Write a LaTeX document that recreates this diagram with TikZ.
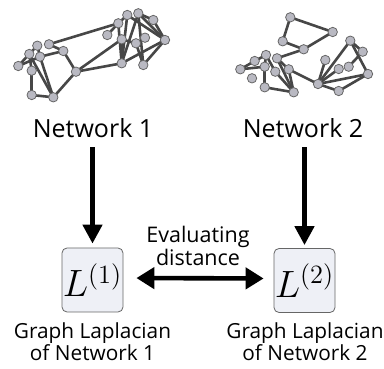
\documentclass[tikz,border=0pt]{standalone}
\usepackage{fontspec}
\setmainfont{Open Sans}
\usetikzlibrary{arrows.meta}
\definecolor{edgec}{HTML}{474747}
\definecolor{nodefill}{HTML}{B9B9C2}
\definecolor{nodedraw}{HTML}{666666}
\definecolor{boxfill}{HTML}{EEF0F6}
\definecolor{boxdraw}{HTML}{666666}
\newcommand{\lapsym}[1]{\scalebox{2.2}{\LARGE$L^{(#1)}$}}
\tikzset{
  vtx/.style={circle,fill=nodefill,draw=nodedraw,line width=0.8pt,minimum size=9.4pt,inner sep=0pt},
  lnk/.style={draw=edgec,line width=2.6pt},
  netlab/.style={font=\fontsize{25}{28}\selectfont,inner sep=0pt,anchor=base},
  lapbox/.style={draw=boxdraw,fill=boxfill,line width=0.8pt,rounded corners=5pt,minimum width=61pt,minimum height=64pt,inner sep=0pt},
  caption/.style={font=\fontsize{20.8}{20}\selectfont,align=center,inner sep=0pt},
  bigarrow/.style={line width=4.6pt,-{Triangle[length=19pt,width=19pt]}},
  dblarrow/.style={line width=4.6pt,{Triangle[length=18pt,width=21pt]}-{Triangle[length=18pt,width=21pt]}}
}
\begin{document}
\begin{tikzpicture}[x=1pt,y=-1pt]
\useasboundingbox (0,0) rectangle (384,369);
% ---------- Network 1 ----------
\foreach \n/\x/\y in {a1/18.3/66,a2/29.3/54,a3/37.3/45.7,a4/40/56.7,a5/31.7/70.7,a6/31.7/95,a7/53.3/97.3,a8/49/44.3,a9/63.3/51,a10/76/71.7,a11/107.3/35,a12/118.3/23.3,a13/127.3/15,a14/138.3/13.3,a15/153.3/20,a16/121.7/39.3,a17/136/43.3,a18/145/37.7,a19/165/40,a20/121.7/63.3,a21/143.3/65}
  \coordinate (\n) at (\x,\y);
\foreach \u/\v in {a1/a2,a1/a4,a2/a3,a2/a5,a2/a7,a3/a4,a4/a7,a4/a9,a5/a6,a6/a7,a7/a10,a10/a9,a9/a8,a8/a12,a10/a20,a10/a16,a11/a12,a12/a13,a12/a20,a13/a19,a14/a19,a14/a15,a15/a19,a16/a20,a13/a20,a14/a21,a17/a21,a19/a21,a19/a20,a16/a17,a14/a20}
  \draw[lnk] (\u) -- (\v);
\foreach \n in {a1,a2,a3,a4,a5,a6,a7,a8,a9,a10,a11,a12,a13,a14,a15,a16,a17,a18,a19,a20,a21}
  \node[vtx] at (\n) {};
% ---------- Network 2 ----------
\foreach \n/\x/\y in {b1/290.3/17.3,b2/332.7/32,b3/282.7/41.3,b4/303.7/49.3,b5/266/55,b6/254.7/61,b7/240.3/69.3,b8/264.7/66.7,b9/277/58.3,b10/275.3/71.7,b11/288.7/69.3,b12/252/78.3,b13/264.7/87.3,b14/293.7/92.3,b15/318/84,b16/325.3/60,b17/338.7/69,b18/338.7/91,b19/348.7/66.7,b20/350.3/40.7,b21/362.7/51.7,b22/368/74}
  \coordinate (\n) at (\x,\y);
\foreach \u/\v in {b1/b2,b1/b3,b3/b4,b4/b2,b4/b9,b9/b11,b9/b14,b11/b15,b11/b14,b5/b6,b6/b7,b7/b8,b5/b10,b8/b13,b13/b14,b10/b14,b5/b8,b15/b16,b15/b20,b15/b22,b15/b18,b18/b22,b20/b21,b20/b22,b21/b19,b15/b17}
  \draw[lnk] (\u) -- (\v);
\foreach \n in {b1,b2,b3,b4,b5,b6,b7,b8,b9,b10,b11,b12,b13,b14,b15,b16,b17,b18,b19,b20,b21,b22}
  \node[vtx] at (\n) {};
% ---------- labels ----------
\node[netlab] (lab1) at (93,138) {Network 1};
\node[netlab] (lab2) at (303,138) {Network 2};
\node[lapbox] (box1) at (92.5,280) {\lapsym{1}};
\node[lapbox] (box2) at (304.5,280.5) {\lapsym{2}};
\draw[bigarrow,shorten <=9pt,shorten >=4pt] (box1.north |- lab1.south) -- (box1.north);
\draw[bigarrow,shorten <=9pt,shorten >=3pt] (box2.north |- lab2.south) -- (box2.north);
\draw[dblarrow,shorten <=13pt,shorten >=10pt] ([yshift=2pt]box1.east) -- ([yshift=2pt]box2.west);
\node[caption,font=\fontsize{21.5}{17}\selectfont] (evd) at (198,246) {Evaluating\\distance};
\node[caption] (cap1) at (92.5,342) {Graph Laplacian\\of Network 1};
\node[caption] (cap2) at (305,342) {Graph Laplacian\\of Network 2};
\end{tikzpicture}
\end{document}
